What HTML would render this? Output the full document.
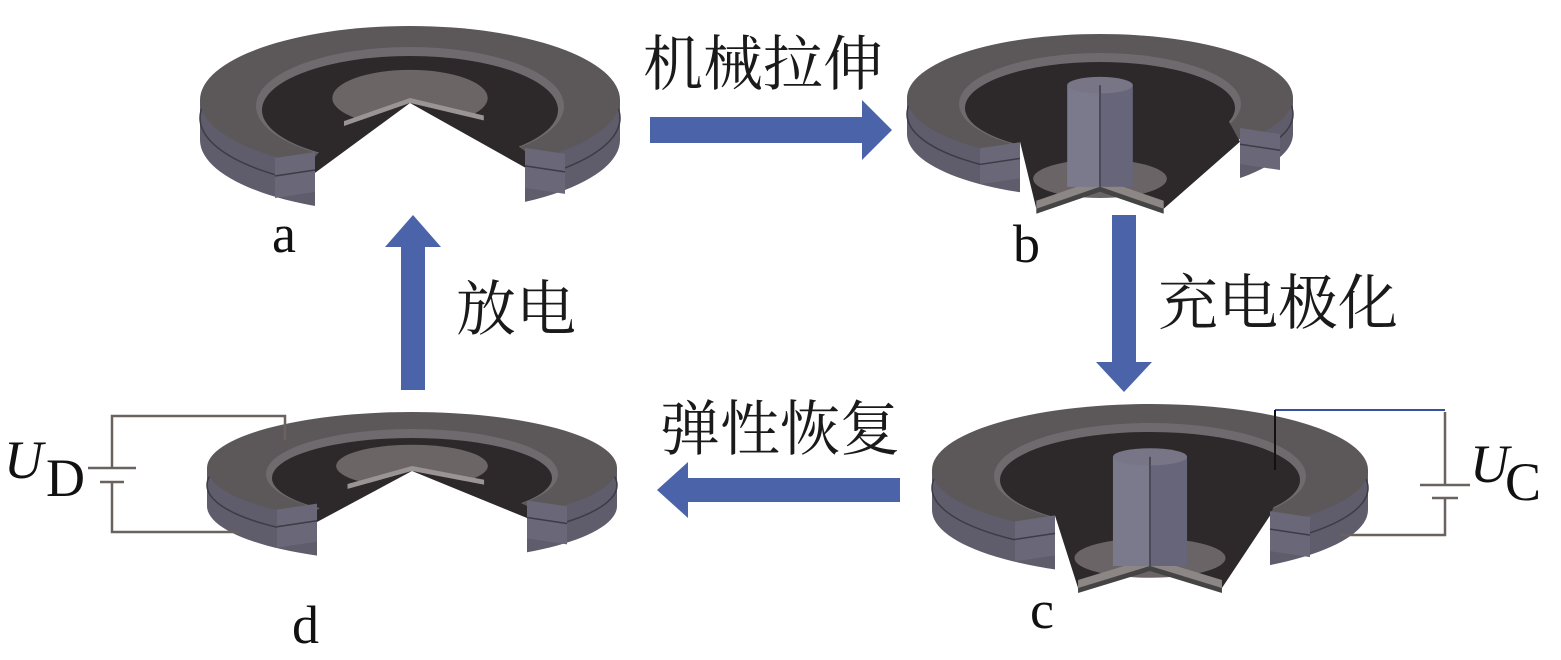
<!DOCTYPE html>
<html><head><meta charset="utf-8"><style>
html,body{margin:0;padding:0;background:#fff;width:1561px;height:660px;overflow:hidden}
svg{display:block}
.cn{font-family:"Liberation Serif","Noto Serif CJK SC","Noto Sans CJK SC",serif;font-size:60px;fill:#1a1a1a}
.lb{font-family:"Liberation Serif",serif;font-size:54px;fill:#111}
</style></head><body>
<svg id="s" width="1561" height="660" viewBox="0 0 1561 660" xmlns="http://www.w3.org/2000/svg">
<g id="shapes"></g>
<g fill="#4b64a9">
<polygon points="650,117 862,117 862,100 892,130 862,160 862,143 650,143"/>
<polygon points="1112,215 1136,215 1136,362 1152,362 1124,392 1096,362 1112,362"/>
<polygon points="900,478 688,478 688,462 657,490 688,518 688,502 900,502"/>
<polygon points="401,390 425,390 425,247 441,247 413,215 385,247 401,247"/>
</g>
<g stroke="#6a625e" stroke-width="2.5" fill="none">
<polyline points="240,532 112,532 112,482"/>
<polyline points="112,468 112,416 285,416 285,440"/>
<line x1="88" y1="468" x2="136" y2="468"/>
<line x1="100" y1="482" x2="124" y2="482"/>
<polyline points="1445,485 1445,412"/>
<polyline points="1445,498 1445,535 1340,535"/>
<line x1="1420" y1="485" x2="1470" y2="485"/>
<line x1="1432" y1="498" x2="1458" y2="498"/>
</g>
<polyline points="1275,410 1445,410" stroke="#3a4fa0" stroke-width="2" fill="none"/>
<line x1="1275" y1="410" x2="1275" y2="470" stroke="#111" stroke-width="2"/>
<text class="cn" x="643" y="85">机械拉伸</text>
<text class="cn" x="1158" y="324">充电极化</text>
<text class="cn" x="660" y="450">弹性恢复</text>
<text class="cn" x="456" y="330">放电</text>
<text class="lb" x="272" y="252">a</text>
<text class="lb" x="1013" y="262">b</text>
<text class="lb" x="1030" y="628">c</text>
<text class="lb" x="292" y="643">d</text>
<text class="lb" x="4" y="478" font-style="italic" font-size="58">U</text>
<text class="lb" x="46" y="496" font-size="34">D</text>
<text class="lb" x="1470" y="482" font-style="italic" font-size="58">U</text>
<text class="lb" x="1505" y="500" font-size="34">C</text>
</svg>
<script>
function ring(cx,cy,rx,ry,th,irx,iry,cl,cr,deep){
 let s='';
 const yAt=x=>ry*Math.sqrt(Math.max(0,1-(x*x)/(rx*rx)));
 s+=`<ellipse cx="${cx}" cy="${cy+th}" rx="${rx}" ry="${ry}" fill="#5f5c6c"/>`;
 s+=`<rect x="${cx-rx}" y="${cy}" width="${2*rx}" height="${th}" fill="#5f5c6c"/>`;
 s+=`<ellipse cx="${cx}" cy="${cy+th*0.45}" rx="${rx}" ry="${ry}" fill="none" stroke="#3d3b45" stroke-width="1.5"/>`;
 s+=`<ellipse cx="${cx}" cy="${cy}" rx="${rx}" ry="${ry}" fill="#5c5859"/>`;
 s+=`<ellipse cx="${cx}" cy="${cy+6}" rx="${irx+6}" ry="${iry+5}" fill="#6e6a6d"/>`;
 s+=`<ellipse cx="${cx}" cy="${cy+10}" rx="${irx}" ry="${iry}" fill="#2d292a"/>`;
 const L=cx+cl, R=cx+cr;
 const yl=cy+yAt(cl), yr=cy+yAt(cr);
 if(!deep){
  const dx=rx*0.37, dy=ry*0.38;
  s+=`<ellipse cx="${cx}" cy="${cy-2}" rx="${dx}" ry="${dy}" fill="#6b6566"/>`;
  // disk cut edge strips
  s+=`<polygon points="${cx},${cy-2} ${cx-dx*0.85},${cy+dy*0.75} ${cx-dx*0.85},${cy+dy*0.75+5} ${cx},${cy+3}" fill="#9a9494"/>`;
  s+=`<polygon points="${cx},${cy-2} ${cx+dx*0.95},${cy+dy*0.55} ${cx+dx*0.95},${cy+dy*0.55+5} ${cx},${cy+3}" fill="#9a9494"/>`;
  s+=`<polygon points="${cx},${cy+3} ${cx-dx*0.85},${cy+dy*0.75+5} ${L},${cy+iry*1.05} ${L},${cy+ry+th+20} ${R},${cy+ry+th+20} ${R},${cy+iry*0.95} ${cx+dx*0.95},${cy+dy*0.55+5}" fill="#2d292a"/>`;
  s+=`<polygon points="${cx},${cy+3} ${L},${cy+iry*1.35} ${L},${cy+ry+th+20} ${R},${cy+ry+th+20} ${R},${cy+iry*1.25}" fill="#fff"/>`;
 } else {
  const bw=rx*0.33, bt=cy+ry+th*1.3;
  s+=`<polygon points="${L},${cy+iry*0.9} ${L},${cy+ry+th+30} ${R},${cy+ry+th+30} ${R},${cy+iry*0.9}" fill="#fff"/>`;
  s+=`<polygon points="${L},${cy+iry*0.95} ${cx-bw},${bt} ${cx},${bt-22} ${cx+bw},${bt} ${R},${cy+iry*0.95} ${cx+irx*0.9},${cy+10} ${cx-irx*0.9},${cy+10}" fill="#2d292a"/>`;
  s+=`<ellipse cx="${cx}" cy="${bt-30}" rx="${bw*1.05}" ry="${ry*0.3}" fill="#6a6466"/>`;
  s+=`<polygon points="${cx-bw},${bt-8} ${cx},${bt-30} ${cx+bw},${bt-8} ${cx+bw},${bt} ${cx},${bt-22} ${cx-bw},${bt}" fill="#8c8685"/>`;
  s+=`<polygon points="${cx-bw},${bt} ${cx},${bt-22} ${cx+bw},${bt} ${cx+bw},${bt+5} ${cx},${bt-17} ${cx-bw},${bt+5}" fill="#444"/>`;
  const pw=rx*0.17, pt=cy-ry*0.2, pb=bt-22;
  s+=`<rect x="${cx-pw}" y="${pt}" width="${pw}" height="${pb-pt}" fill="#7b7a8c"/>`;
  s+=`<rect x="${cx}" y="${pt}" width="${pw}" height="${pb-pt}" fill="#66657a"/>`;
  s+=`<ellipse cx="${cx}" cy="${pt}" rx="${pw}" ry="${ry*0.13}" fill="#777586"/>`;
  s+=`<line x1="${cx}" y1="${pt}" x2="${cx}" y2="${pb}" stroke="#4a4958" stroke-width="2"/>`;
 }
 s+=`<polygon points="${L-40},${yl-8} ${L},${yl-14} ${L},${yl-14+th} ${L-40},${yl-8+th}" fill="#6a6878"/>`;
 s+=`<line x1="${L-40}" y1="${yl-8+th*0.45}" x2="${L}" y2="${yl-14+th*0.45}" stroke="#3d3b45" stroke-width="1.5"/>`;
 s+=`<polygon points="${R},${yr-14} ${R+40},${yr-8} ${R+40},${yr-8+th} ${R},${yr-14+th}" fill="#6a6878"/>`;
 s+=`<line x1="${R}" y1="${yr-14+th*0.45}" x2="${R+40}" y2="${yr-8+th*0.45}" stroke="#3d3b45" stroke-width="1.5"/>`;
 return s;
}
let h='';
h+=ring(410,100,210,74,40,148,54,-95,115,false);
h+=ring(1100,98,193,64,36,135,46,-80,140,true);
h+=ring(1150,470,218,66,40,150,48,-95,120,true);
h+=ring(412,468,205,56,38,140,40,-95,115,false);
document.getElementById('shapes').innerHTML=h;
</script>
</body></html>
